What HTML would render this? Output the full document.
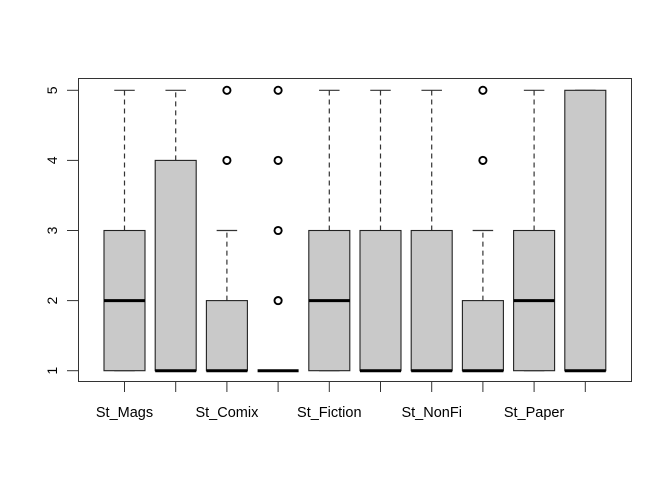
<!DOCTYPE html>
<html><head><meta charset="utf-8"><style>
html,body{margin:0;padding:0;background:#fff;}
svg{display:block;font-family:"Liberation Sans",Arial,sans-serif;}
</style></head><body>
<svg id="chart" width="672" height="480" viewBox="0 0 672 480"></svg>
<script>
const categories = ["St_Mags","St_Books","St_Comix","St_Kids","St_Fiction","St_Text","St_NonFi","St_Ebook","St_Paper","St_Audio"];
const lowerWhisker = [1,1,1,1,1,1,1,1,1,1];
const q1 = [1,1,1,1,1,1,1,1,1,1];
const medians = [2,1,1,1,2,1,1,1,2,1];
const q3 = [3,4,2,1,3,3,3,2,3,5];
const upperWhisker = [5,5,3,1,5,5,5,3,5,5];
const outliers = [[],[],[4,5],[2,3,4,5],[],[],[],[4,5],[],[]];
const yTicks = [1,2,3,4,5];

const svg = document.getElementById('chart');
const NS = 'http://www.w3.org/2000/svg';
function yScale(v){ return 370.7 - (v-1)*70.1; }
function xScale(i){ return 124.5 + i*51.2; }
function mk(tag, attrs, parent){
  const e = document.createElementNS(NS, tag);
  for (const k in attrs) e.setAttribute(k, attrs[k]);
  (parent||svg).appendChild(e);
  return e;
}
const halfW = 20.5;
categories.forEach((c,i)=>{
  const g = mk('g',{});
  
  
  const cx = xScale(i);
  if (upperWhisker[i] > q3[i]) {
    mk('line',{x1:cx,x2:cx,y1:yScale(q3[i]),y2:yScale(upperWhisker[i]),stroke:'#333','stroke-width':1.2,'stroke-dasharray':'5,4'},g);
  }
  mk('line',{x1:cx-halfW/2,x2:cx+halfW/2,y1:yScale(upperWhisker[i]),y2:yScale(upperWhisker[i]),stroke:'#333','stroke-width':1.2},g);
  mk('line',{x1:cx-halfW/2,x2:cx+halfW/2,y1:yScale(lowerWhisker[i]),y2:yScale(lowerWhisker[i]),stroke:'#333','stroke-width':1.2},g);
  mk('rect',{x:cx-halfW,y:yScale(q3[i]),width:halfW*2,height:Math.max(0,yScale(q1[i])-yScale(q3[i])),fill:'#c9c9c9',stroke:'#222','stroke-width':1.1},g);
  mk('line',{x1:cx-halfW,x2:cx+halfW,y1:yScale(medians[i]),y2:yScale(medians[i]),stroke:'#000','stroke-width':3},g);
  outliers[i].forEach(v=>{
    const o = mk('circle',{cx:cx,cy:yScale(v),r:3.6,fill:'none',stroke:'#000','stroke-width':1.9},g);
    
    
  });
});
const frame = mk('rect',{x:78.5,y:78.5,width:553,height:303,fill:'none',stroke:'#333','stroke-width':1});


const yAx = mk('g',{});


mk('line',{x1:78.5,x2:78.5,y1:yScale(1),y2:yScale(5),stroke:'#333'},yAx);
yTicks.forEach(t=>{
  mk('line',{x1:67,x2:78.5,y1:yScale(t),y2:yScale(t),stroke:'#333'},yAx);
  const tx = mk('text',{x:0,y:0,'font-size':14,'text-anchor':'middle',fill:'#000',transform:'translate(57,'+yScale(t)+') rotate(-90)'},yAx);
  tx.textContent = t;
  
  
});
const xAx = mk('g',{});


mk('line',{x1:xScale(0),x2:xScale(categories.length-1),y1:381.5,y2:381.5,stroke:'#333'},xAx);
categories.forEach((c,i)=>{
  mk('line',{x1:xScale(i),x2:xScale(i),y1:381.5,y2:392,stroke:'#333'},xAx);
  if (i % 2 === 0) {
    const tx = mk('text',{x:xScale(i),y:417,'font-size':14.5,'text-anchor':'middle',fill:'#000'},xAx);
    tx.textContent = c;
    
    
  }
});
</script>
</body></html>
